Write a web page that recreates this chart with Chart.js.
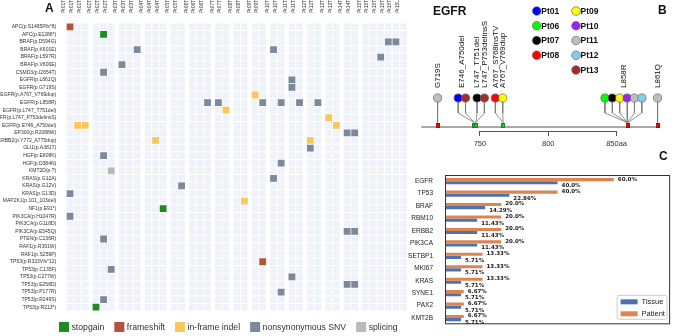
<!DOCTYPE html>
<html>
<head>
<meta charset="utf-8">
<script src="https://cdn.jsdelivr.net/npm/chart.js@4.4.1/dist/chart.umd.min.js"></script>
<style>
  body { margin: 0; background: #fff; }
  #wrap { position: relative; width: 677px; height: 336px; overflow: hidden; }
  canvas { position: absolute; }
  .tag { position: absolute; font: bold 12px 'Liberation Sans', Arial, sans-serif; color: #111; }
</style>
</head>
<body>
<div id="wrap">
  <canvas id="chartA" width="420" height="336" style="left:0;top:0"></canvas>
  <canvas id="chartB" width="257" height="160" style="left:420px;top:0"></canvas>
  <canvas id="chartC" width="277" height="176" style="left:400px;top:160px"></canvas>
  <div class="tag" style="left:45px;top:1px">A</div>
  <div class="tag" style="left:658px;top:3px">B</div>
  <div class="tag" style="left:659px;top:149px">C</div>
</div>
<script>
Chart.defaults.font.family = "'Liberation Sans', Arial, sans-serif";
Chart.defaults.animation = false;

// ---------- panel A: mutation map ----------
const sampleLabels = [
  'Pt01T1', 'Pt01T2', 'Pt01T3', 'Pt02T1', 'Pt02T2', 'Pt02T3', 'Pt03T1', 'Pt03T2', 'Pt03T3',
  'Pt04T1', 'Pt04T2', 'Pt04T3', 'Pt05T1', 'Pt05T2', 'Pt06T1', 'Pt06T2', 'Pt06T3',
  'Pt07T1', 'Pt07T2', 'Pt08T1', 'Pt08T2', 'Pt09T1', 'Pt09T2', 'Pt10T1', 'Pt10T2',
  'Pt11T1', 'Pt11T2', 'Pt12T1', 'Pt12T2', 'Pt13T1', 'Pt13T2', 'Pt14T1', 'Pt14T2',
  'Pt15T1', 'Pt15T2', 'Pt15T3', 'Pt15T4', 'Pt15T5', 'Pt15L'
];
const mutationLabels = [
  'APC(p.S1465Rfs*8)', 'APC(p.E1286*)', 'BRAF(p.D594G)', 'BRAF(p.K601E)', 'BRAF(p.L597R)',
  'BRAF(p.V600E)', 'CSMD3(p.I2654T)', 'EGFR(p.L861Q)', 'EGFR(p.G719S)', 'EGFR(p.A767_V769dup)',
  'EGFR(p.L858R)', 'EGFR(p.L747_T751del)', 'EGFR(p.L747_P753delinsS)', 'EGFR(p.E746_A750del)',
  'EP300(p.R2088W)', 'ERBB2(p.Y772_A775dup)', 'GLI1(p.A381T)', 'HGF(p.E808K)', 'HGF(p.D384N)',
  'KMT2D(p.?)', 'KRAS(p.G12A)', 'KRAS(p.G12V)', 'KRAS(p.G13D)', 'MAP2K1(p.101_103del)',
  'NF1(p.E91*)', 'PIK3CA(p.H1047R)', 'PIK3CA(p.G118D)', 'PIK3CA(p.E545Q)', 'PTEN(p.C136R)',
  'RAF1(p.R391W)', 'RAF1(p.S259P)', 'TP53(p.R333Vfs*12)', 'TP53(p.C135F)', 'TP53(p.C277W)',
  'TP53(p.E258D)', 'TP53(p.P177R)', 'TP53(p.R249S)', 'TP53(p.R213*)'
];
const stopgainHits = [
  ['APC(p.E1286*)', 'Pt02T2'], ['NF1(p.E91*)', 'Pt04T3'], ['TP53(p.R213*)', 'Pt02T1']
];
const frameshiftHits = [
  ['APC(p.S1465Rfs*8)', 'Pt01T1'], ['TP53(p.R333Vfs*12)', 'Pt09T2']
];
const inframeHits = [
  ['EGFR(p.E746_A750del)', 'Pt01T2'], ['EGFR(p.E746_A750del)', 'Pt01T3'],
  ['ERBB2(p.Y772_A775dup)', 'Pt04T2'], ['EGFR(p.L747_T751del)', 'Pt07T2'],
  ['MAP2K1(p.101_103del)', 'Pt08T2'], ['EGFR(p.A767_V769dup)', 'Pt09T1'],
  ['ERBB2(p.Y772_A775dup)', 'Pt12T1'], ['EGFR(p.L747_P753delinsS)', 'Pt13T1'],
  ['EGFR(p.E746_A750del)', 'Pt13T2']
];
const snvHits = [
  ['KRAS(p.G13D)', 'Pt01T1'], ['PIK3CA(p.H1047R)', 'Pt01T1'],
  ['CSMD3(p.I2654T)', 'Pt02T2'], ['HGF(p.E808K)', 'Pt02T2'], ['PTEN(p.C136R)', 'Pt02T2'],
  ['TP53(p.R249S)', 'Pt02T2'], ['TP53(p.C135F)', 'Pt02T3'],
  ['BRAF(p.V600E)', 'Pt03T1'], ['BRAF(p.K601E)', 'Pt03T3'], ['KRAS(p.G12V)', 'Pt05T2'],
  ['EGFR(p.L858R)', 'Pt06T3'], ['EGFR(p.L858R)', 'Pt07T1'], ['EGFR(p.L858R)', 'Pt09T2'],
  ['BRAF(p.K601E)', 'Pt10T1'], ['KRAS(p.G12A)', 'Pt10T1'], ['EGFR(p.L858R)', 'Pt10T2'],
  ['HGF(p.D384N)', 'Pt10T2'], ['TP53(p.P177R)', 'Pt10T2'],
  ['EGFR(p.L861Q)', 'Pt11T1'], ['EGFR(p.G719S)', 'Pt11T1'], ['TP53(p.C277W)', 'Pt11T1'],
  ['EGFR(p.L858R)', 'Pt11T2'], ['GLI1(p.A381T)', 'Pt12T1'], ['EGFR(p.L858R)', 'Pt12T2'],
  ['EP300(p.R2088W)', 'Pt14T1'], ['EP300(p.R2088W)', 'Pt14T2'],
  ['PIK3CA(p.E545Q)', 'Pt14T1'], ['PIK3CA(p.E545Q)', 'Pt14T2'],
  ['TP53(p.E258D)', 'Pt14T1'], ['TP53(p.E258D)', 'Pt14T2'],
  ['BRAF(p.L597R)', 'Pt15T3'], ['BRAF(p.D594G)', 'Pt15T4'], ['BRAF(p.D594G)', 'Pt15T5']
];
const splicingHits = [
  ['KMT2D(p.?)', 'Pt02T3']
];

// ---------- panel B: EGFR lollipop ----------
const egfrMutations = ['G719S', 'E746_A750del', 'L747_T751del', 'L747_P753delinsS',
  'A767_S768insTV', 'A767_V769dup', 'L858R', 'L861Q'];
// residue positions as drawn against the 750/800/850 axis
const egfrPositions = [719, 746, 747, 747, 767, 767, 858, 880];
const egfrKinds = ['snv', 'indel', 'indel', 'indel', 'indel', 'indel', 'snv', 'snv'];
const egfrPatients = [['Pt11'], ['Pt01', 'Pt13'], ['Pt07'], ['Pt13'], ['Pt08'], ['Pt09'],
  ['Pt06', 'Pt07', 'Pt09', 'Pt10', 'Pt11', 'Pt12'], ['Pt11']];
const proteinRange = [707, 881];
const axisTicks = [750, 800, 850];
const legendPatients = ['Pt01', 'Pt06', 'Pt07', 'Pt08', 'Pt09', 'Pt10', 'Pt11', 'Pt12', 'Pt13'];

// ---------- panel C: gene frequencies ----------
const genes = ['EGFR', 'TP53', 'BRAF', 'RBM10', 'ERBB2', 'PIK3CA', 'SETBP1', 'MKI67', 'KRAS', 'SYNE1', 'PAX2', 'KMT2B'];
const tissuePct = [40.0, 22.86, 14.29, 11.43, 11.43, 11.43, 5.71, 5.71, 5.71, 5.71, 5.71, 5.71];
const patientPct = [60.0, 40.0, 20.0, 20.0, 20.0, 20.0, 13.33, 13.33, 13.33, 6.67, 6.67, 6.67];

// ================= panel A =================
const GROUP_GAP = 0.42; // extra space between patients, in column units
const patientOrder = [...new Set(sampleLabels.map(s => s.slice(0, 4)))];
const colX = sampleLabels.map((s, i) => i + GROUP_GAP * patientOrder.indexOf(s.slice(0, 4)));

const cells = [];
mutationLabels.forEach((m, r) => colX.forEach(x => cells.push({x: x, y: r})));

function toPoints(hits) {
  return hits.map(([m, s]) => ({x: colX[sampleLabels.indexOf(s)], y: mutationLabels.indexOf(m)}));
}

function hitSet(label, hits, colour) {
  return {
    label: label, data: toPoints(hits),
    backgroundColor: colour, borderColor: colour, borderWidth: 0,
    pointStyle: 'rect', pointRadius: 4.8, pointHoverRadius: 4.8
  };
}

// legend row under the grid, drawn from the datasets
const hitLegend = {
  id: 'hitLegend',
  afterDraw(chart) {
    const ctx = chart.ctx;
    ctx.save();
    ctx.font = "8.7px 'Liberation Sans', Arial, sans-serif";
    ctx.textBaseline = 'middle';
    let x = 59;
    const y = 322;
    chart.data.datasets.forEach(ds => {
      if (ds.label === 'cells') return;
      ctx.fillStyle = ds.backgroundColor;
      ctx.fillRect(x, y, 10, 10);
      ctx.fillStyle = '#333';
      ctx.fillText(ds.label, x + 12.5, y + 5.5);
      x += 12.5 + ctx.measureText(ds.label).width + 10;
    });
    ctx.restore();
  }
};

new Chart(document.getElementById('chartA'), {
  type: 'scatter',
  data: {
    datasets: [
      hitSet('stopgain', stopgainHits, '#1e8c1e'),
      hitSet('frameshift', frameshiftHits, '#b4533a'),
      hitSet('in-frame indel', inframeHits, '#fbc75a'),
      hitSet('nonsynonymous SNV', snvHits, '#7a8a9c'),
      hitSet('splicing', splicingHits, '#b9b9b9'),
      {
        label: 'cells', data: cells, backgroundColor: '#f0f2f9', borderWidth: 0,
        pointStyle: 'rect', pointRadius: 4.7, pointHoverRadius: 4.7
      }
    ]
  },
  options: {
    responsive: false,
    events: [],
    layout: {padding: {left: 0, top: 0, right: 12.7, bottom: 25}},
    scales: {
      x: {
        type: 'linear', position: 'top',
        min: -0.5, max: colX[colX.length - 1] + 0.5,
        afterBuildTicks: s => { s.ticks = colX.map(v => ({value: v})); },
        afterFit: s => { s.height = 23; },
        grid: {display: false}, border: {display: false},
        ticks: {
          autoSkip: false, minRotation: 90, maxRotation: 90, padding: 2,
          font: {size: 5}, color: '#333',
          callback: (v, i) => sampleLabels[i]
        }
      },
      y: {
        type: 'linear', reverse: true,
        min: -0.5, max: mutationLabels.length - 0.5,
        afterBuildTicks: s => { s.ticks = mutationLabels.map((m, i) => ({value: i})); },
        afterFit: s => { s.width = 66.2; },
        grid: {display: false}, border: {display: false},
        ticks: {
          autoSkip: false, padding: 2, font: {size: 5}, color: '#333',
          callback: (v, i) => mutationLabels[i]
        }
      }
    },
    plugins: {tooltip: {enabled: false}, legend: {display: false}}
  },
  plugins: [hitLegend]
});

// ================= panel B =================
const patientColours = {
  Pt01: '#0000ff', Pt06: '#00ff00', Pt07: '#000000', Pt08: '#ff0000', Pt09: '#ffff00',
  Pt10: '#a020f0', Pt11: '#bebebe', Pt12: '#87ceeb', Pt13: '#a52a2a'
};
const BALL_STEP = 5.4;    // aa between neighbouring balls
const SITE_GAP = 3;       // extra aa between different sites of one cluster
const CLUSTER_SHIFT = -3; // spread clusters slightly to the left, as drawn
const LINE_Y = 0.4, MARK_Y = 0.55, MARK_TOP = 0.83, ELBOW_Y = 1.8, BALL_Y = 3.3, LABEL_Y = 4.3;

// spread balls of nearby mutations so they do not overlap
const balls = [];
(function () {
  const order = egfrPositions.map((p, i) => i).sort((a, b) => egfrPositions[a] - egfrPositions[b]);
  const clusters = [];
  order.forEach(i => {
    const last = clusters[clusters.length - 1];
    if (last && egfrPositions[i] - egfrPositions[last[last.length - 1]] <= 5) last.push(i);
    else clusters.push([i]);
  });
  clusters.forEach(cl => {
    const items = [];
    let cur = 0, prevPos = null;
    cl.forEach(m => {
      egfrPatients[m].forEach(p => {
        if (items.length) cur += BALL_STEP + (egfrPositions[m] !== prevPos ? SITE_GAP : 0);
        prevPos = egfrPositions[m];
        items.push({m: m, p: p, off: cur});
      });
    });
    let centre = cl.reduce((s, m) => s + egfrPositions[m], 0) / cl.length;
    if (items.length > 1) centre += CLUSTER_SHIFT;
    items.forEach(it => balls.push({x: centre - cur / 2 + it.off, m: it.m, p: it.p}));
  });
})();

function markImage(colour) {
  const c = document.createElement('canvas');
  c.width = 4; c.height = 5;
  const g = c.getContext('2d');
  g.fillStyle = colour; g.fillRect(0, 0, 4, 5);
  g.strokeStyle = 'rgba(0,0,0,0.35)'; g.lineWidth = 1; g.strokeRect(0.5, 0.5, 3, 4);
  return c;
}
const snvMark = markImage('#ee1111');
const indelMark = markImage('#22cc22');

const bDatasets = [
  {
    label: 'balls', data: balls.map(b => ({x: b.x, y: BALL_Y})),
    backgroundColor: balls.map(b => patientColours[b.p]),
    borderColor: '#666', borderWidth: 0.7, pointRadius: 4.1, clip: false, order: 0
  },
  {
    label: 'marks', data: egfrPositions.map(p => ({x: p, y: MARK_Y})),
    pointStyle: egfrKinds.map(k => k === 'snv' ? snvMark : indelMark), clip: false, order: 1
  },
  {
    label: 'protein', data: [{x: proteinRange[0], y: LINE_Y}, {x: proteinRange[1], y: LINE_Y}],
    showLine: true, borderColor: '#a9a9a9', borderWidth: 2.2, pointRadius: 0, clip: false, order: 3
  }
];
balls.forEach(b => bDatasets.push({
  label: 'stem', showLine: true, pointRadius: 0, borderColor: '#777', borderWidth: 0.8,
  clip: false, order: 2,
  data: [{x: b.x, y: BALL_Y}, {x: b.x, y: ELBOW_Y}, {x: egfrPositions[b.m], y: MARK_TOP}]
}));

const lollipopText = {
  id: 'lollipopText',
  afterDraw(chart) {
    const ctx = chart.ctx, xs = chart.scales.x, ys = chart.scales.y;
    ctx.save();
    // bracket line of the residue axis
    const y0 = Math.round(chart.chartArea.bottom) + 0.5;
    ctx.strokeStyle = '#555';
    ctx.lineWidth = 1;
    ctx.beginPath();
    ctx.moveTo(xs.getPixelForValue(axisTicks[0]), y0);
    ctx.lineTo(xs.getPixelForValue(axisTicks[axisTicks.length - 1]), y0);
    ctx.stroke();

    ctx.fillStyle = '#111';
    ctx.font = "bold 12px 'Liberation Sans', Arial, sans-serif";
    ctx.textBaseline = 'alphabetic';
    ctx.fillText('EGFR', 13, 15);
    // mutation names above their balls
    ctx.font = "8px 'Liberation Sans', Arial, sans-serif";
    ctx.textBaseline = 'middle';
    ctx.textAlign = 'left';
    egfrMutations.forEach((name, m) => {
      const own = balls.filter(b => b.m === m);
      const cx = own.reduce((s, b) => s + b.x, 0) / own.length;
      ctx.save();
      ctx.translate(xs.getPixelForValue(cx), ys.getPixelForValue(LABEL_Y));
      ctx.rotate(-Math.PI / 2);
      ctx.fillText(name, 0, 0);
      ctx.restore();
    });
    // patient legend, two columns
    ctx.font = "bold 8.5px 'Liberation Sans', Arial, sans-serif";
    legendPatients.forEach((p, i) => {
      const col = i < 4 ? 0 : 1, row = i < 4 ? i : i - 4;
      const x = 116.7 + col * 39.3, y = 11 + row * 14.75;
      ctx.beginPath();
      ctx.arc(x, y, 4.3, 0, Math.PI * 2);
      ctx.fillStyle = patientColours[p]; ctx.fill();
      ctx.lineWidth = 0.7; ctx.strokeStyle = '#666'; ctx.stroke();
      ctx.fillStyle = '#111';
      ctx.fillText(p, x + 4.6, y + 0.5);
    });
    ctx.restore();
  }
};

new Chart(document.getElementById('chartB'), {
  type: 'scatter',
  data: {datasets: bDatasets},
  options: {
    responsive: false,
    events: [],
    layout: {padding: {left: 8, right: 12.6, top: 31, bottom: 0}},
    scales: {
      x: {
        type: 'linear', min: 712, max: 885,
        afterBuildTicks: s => { s.ticks = axisTicks.map(v => ({value: v})); },
        afterFit: s => { s.height = 29; },
        grid: {drawOnChartArea: false, tickLength: 5, color: '#555'},
        border: {display: false},
        ticks: {
          padding: 3, font: {size: 7.5}, color: '#333',
          callback: v => v === 850 ? '850aa' : String(v)
        }
      },
      y: {type: 'linear', display: false, min: 0, max: 10}
    },
    plugins: {legend: {display: false}, tooltip: {enabled: false}}
  },
  plugins: [lollipopText]
});

// ================= panel C =================
function pctText(v) {
  return (Number.isInteger(v) ? v.toFixed(1) : String(v)) + '%';
}

const barExtras = {
  id: 'barExtras',
  afterDatasetsDraw(chart) {
    const ctx = chart.ctx, a = chart.chartArea;
    ctx.save();
    // frame
    ctx.strokeStyle = '#333';
    ctx.lineWidth = 1;
    ctx.strokeRect(a.left + 0.5, a.top + 0.5, a.right - a.left - 1, a.bottom - a.top - 1);
    // value labels
    ctx.fillStyle = '#222';
    ctx.font = "bold 5.5px 'DejaVu Sans', sans-serif";
    ctx.textAlign = 'left';
    ctx.textBaseline = 'middle';
    chart.data.datasets.forEach((ds, di) => {
      chart.getDatasetMeta(di).data.forEach((bar, i) => {
        const dy = ds.label === 'Tissue' ? 3 : -0.5;
        ctx.fillText(pctText(ds.data[i]), bar.x + 4, bar.y + dy);
      });
    });
    // legend box in lower right corner
    const lx = a.right - 53, ly = a.bottom - 29;
    ctx.strokeStyle = '#cccccc';
    ctx.fillStyle = 'rgba(255,255,255,0.9)';
    ctx.beginPath();
    ctx.roundRect(lx, ly, 50, 24, 2);
    ctx.fill(); ctx.stroke();
    ctx.font = "7.5px 'Liberation Sans', Arial, sans-serif";
    [1, 0].forEach((di, k) => {
      const ds = chart.data.datasets[di];
      ctx.fillStyle = ds.backgroundColor;
      ctx.fillRect(lx + 3.5, ly + 4 + k * 12, 17, 5);
      ctx.fillStyle = '#222';
      ctx.fillText(ds.label, lx + 24.5, ly + 6.8 + k * 12);
    });
    ctx.restore();
  }
};

new Chart(document.getElementById('chartC'), {
  type: 'bar',
  data: {
    labels: genes,
    datasets: [
      {label: 'Patient', data: patientPct, backgroundColor: '#dd8452'},
      {label: 'Tissue', data: tissuePct, backgroundColor: '#4c72b0'}
    ]
  },
  options: {
    indexAxis: 'y',
    responsive: false,
    events: [],
    layout: {padding: {left: 0, right: 6, top: 15, bottom: 0}},
    datasets: {bar: {categoryPercentage: 0.5, barPercentage: 1}},
    scales: {
      x: {
        min: 0, max: 80,
        afterFit: s => { s.height = 11.7; },
        grid: {display: false}, border: {display: false},
        ticks: {stepSize: 10, padding: 3, font: {size: 7}, color: '#333'}
      },
      y: {
        afterFit: s => { s.width = 45; },
        grid: {display: false}, border: {display: false},
        ticks: {padding: 4, font: {size: 6.5}, color: '#222'}
      }
    },
    plugins: {legend: {display: false}, tooltip: {enabled: false}}
  },
  plugins: [barExtras]
});
</script>
</body>
</html>
